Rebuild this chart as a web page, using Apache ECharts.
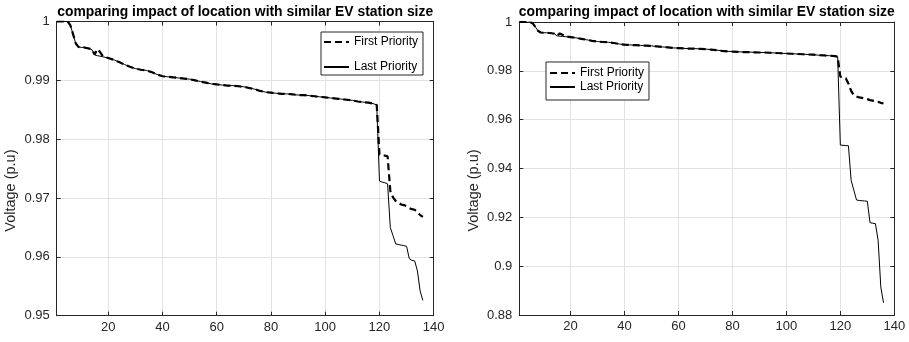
<!DOCTYPE html>
<html><head><meta charset="utf-8">
<script src="https://cdn.jsdelivr.net/npm/echarts@6/dist/echarts.min.js"></script>
<style>html,body{margin:0;padding:0;background:#fff}#c{width:909px;height:342px}</style>
</head><body><div id="c"></div>
<script>
// ---- data (bus number, voltage p.u.) ----
const titleText = 'comparing impact of location with similar EV station size';
const seriesNames = ['First Priority', 'Last Priority'];
const xTicks = [20, 40, 60, 80, 100, 120, 140];

// shared part of the profile (buses 1..119), Last Priority
const trunk = [[1,1],[2,1],[3,1],[4,1],[5,1],[6,0.9994],[7,0.9979],[8,0.9963],[9,0.9957],[10,0.9956],[11,0.9956],[12,0.9955],[13,0.9954],[14,0.9952],[15,0.9943],[16,0.9942],[17,0.9941],[18,0.9940],[20,0.9938],[22,0.9935],[24,0.9931],[26,0.9927],[28,0.9923],[30,0.9920],[32,0.9918],[34,0.9917],[36,0.9914],[38,0.9910],[40,0.9907],[42,0.9906],[44,0.9905],[46,0.9904],[48,0.9903],[50,0.9902],[52,0.9900],[54,0.9898],[56,0.9896],[58,0.9894],[60,0.9893],[62,0.9892],[64,0.9891],[66,0.9891],[68,0.9890],[70,0.9889],[72,0.9887],[74,0.9885],[76,0.9882],[78,0.9880],[80,0.9879],[82,0.9878],[84,0.9877],[86,0.9877],[88,0.9876],[90,0.9875],[92,0.9875],[94,0.9874],[96,0.9873],[98,0.9872],[100,0.9871],[102,0.9870],[104,0.9869],[106,0.9868],[108,0.9867],[110,0.9866],[112,0.9864],[114,0.9863],[116,0.9862],[118,0.9860],[119,0.9858]];
// First Priority differs around buses 14..18
const firstBump = [[14,0.9952],[15,0.9944],[16,0.9953],[17,0.9948],[18,0.9941]];

const leftFirstTail = [[120,0.9774],[121,0.9772],[122,0.9772],[123,0.9771],[124,0.9712],[125,0.9701],[126,0.9695],[127,0.9692],[128,0.9689],[129,0.9688],[130,0.9686],[131,0.9683],[132,0.9681],[133,0.9680],[134,0.9676],[135,0.9671],[136,0.9668]];
const leftLastTail = [[120,0.9729],[121,0.9727],[122,0.9726],[123,0.9724],[124,0.9650],[125,0.9636],[126,0.9622],[127,0.9621],[128,0.9620],[129,0.9619],[130,0.9618],[131,0.9597],[132,0.9594],[133,0.9593],[134,0.9576],[135,0.9542],[136,0.9526]];
const rightFirstTail = [[120,0.9776],[121,0.9774],[122,0.9770],[123,0.9748],[124,0.9718],[125,0.9700],[126,0.9695],[127,0.9691],[128,0.9689],[129,0.9687],[130,0.9684],[131,0.9680],[132,0.9678],[133,0.9676],[134,0.9673],[135,0.9669],[136,0.9666]];
const rightLastTail = [[120,0.9496],[121,0.9495],[122,0.9494],[123,0.9493],[124,0.9352],[125,0.9311],[126,0.9271],[127,0.9269],[128,0.9268],[129,0.9267],[130,0.9266],[131,0.9178],[132,0.9176],[133,0.9174],[134,0.9106],[135,0.8915],[136,0.8850]];

const leftY = {min: 0.95, max: 1, interval: 0.01};
const rightY = {min: 0.88, max: 1, interval: 0.02};

// ---- build ----
function firstSeries(tail) {
  const base = trunk.filter(p => p[0] < 14 || p[0] > 18).concat(firstBump);
  base.sort((a, b) => a[0] - b[0]);
  return base.concat(tail);
}
function lastSeries(tail) { return trunk.concat(tail); }

const FONT = "'Liberation Sans', Arial, Helvetica, sans-serif";
const AX = '#262626';
const GRIDC = '#e2e2e2';

const grids = [
  {left: 56.7, top: 21.5, width: 377, height: 294.2},
  {left: 519.3, top: 22, width: 375, height: 293}
];

function xAxes(gi) {
  const common = {gridIndex: gi, type: 'value', min: 1, max: 140,
    axisLine: {show: true, onZero: false, lineStyle: {color: AX, width: 1}}};
  return [
    Object.assign({}, common, {position: 'bottom',
      axisTick: {show: true, inside: true, length: 4, customValues: xTicks, lineStyle: {color: AX}},
      axisLabel: {show: true, customValues: xTicks, color: AX, fontSize: 13, fontFamily: FONT, margin: 5},
      splitLine: {show: true, lineStyle: {color: GRIDC, width: 1}}}),
    Object.assign({}, common, {position: 'top',
      axisTick: {show: true, inside: true, length: 4, customValues: xTicks, lineStyle: {color: AX}},
      axisLabel: {show: false}, splitLine: {show: false}})
  ];
}
function yAxes(gi, yr) {
  const common = {gridIndex: gi, type: 'value', min: yr.min, max: yr.max, interval: yr.interval,
    axisLine: {show: true, onZero: false, lineStyle: {color: AX, width: 1}}};
  return [
    Object.assign({}, common, {position: 'left',
      name: 'Voltage (p.u)', nameLocation: 'middle', nameGap: 38,
      nameTextStyle: {color: AX, fontSize: 14.5, fontFamily: FONT, padding: [0, 44, 0, 0]},
      axisTick: {show: true, inside: true, length: 4, lineStyle: {color: AX}},
      axisLabel: {show: true, color: AX, fontSize: 13, fontFamily: FONT, margin: 7},
      splitLine: {show: true, lineStyle: {color: GRIDC, width: 1}}}),
    Object.assign({}, common, {position: 'right',
      axisTick: {show: true, inside: true, length: 4, lineStyle: {color: AX}},
      axisLabel: {show: false}, splitLine: {show: false}})
  ];
}

function mk(name, data, xi, yi, dashed) {
  return {name: name, type: 'line', xAxisIndex: xi, yAxisIndex: yi, data: data,
    symbol: 'none', showSymbol: false, animation: false, silent: true,
    lineStyle: dashed ? {color: '#000', width: 2.2, type: [7, 4]} : {color: '#000', width: 1},
    itemStyle: {color: 'rgba(0,0,0,0)', opacity: 0}};
}

const legendCommon = {orient: 'vertical', itemWidth: 25, itemHeight: 14,
  backgroundColor: '#fff', borderColor: AX, borderWidth: 1, borderRadius: 0,
  textStyle: {color: '#000', fontSize: 12, fontFamily: FONT},
  itemStyle: {opacity: 0, color: 'rgba(0,0,0,0)', borderWidth: 0},
  data: seriesNames, selectedMode: false};

const option = {
  backgroundColor: '#fff',
  animation: false,
  title: [
    {text: titleText, left: 245.2, top: 5, textAlign: 'center', padding: 0,
      textStyle: {fontSize: 13.9, fontWeight: 'bold', color: '#000', fontFamily: FONT}},
    {text: titleText, left: 706.8, top: 5, textAlign: 'center', padding: 0,
      textStyle: {fontSize: 13.9, fontWeight: 'bold', color: '#000', fontFamily: FONT}}
  ],
  legend: [
    Object.assign({}, legendCommon, {left: 321, top: 32, padding: [4, 5, 2, 2], itemGap: 13}),
    Object.assign({}, legendCommon, {left: 546, top: 62, padding: [5, 5, 7, 3], itemGap: 2})
  ],
  grid: grids,
  xAxis: xAxes(0).concat(xAxes(1)),
  yAxis: yAxes(0, leftY).concat(yAxes(1, rightY)),
  series: [
    mk(seriesNames[0], firstSeries(leftFirstTail), 0, 0, true),
    mk(seriesNames[1], lastSeries(leftLastTail), 0, 0, false),
    mk(seriesNames[0], firstSeries(rightFirstTail), 2, 2, true),
    mk(seriesNames[1], lastSeries(rightLastTail), 2, 2, false)
  ]
};
const chart = echarts.init(document.getElementById('c'), null, {renderer: 'canvas'});
chart.setOption(option);
</script></body></html>
